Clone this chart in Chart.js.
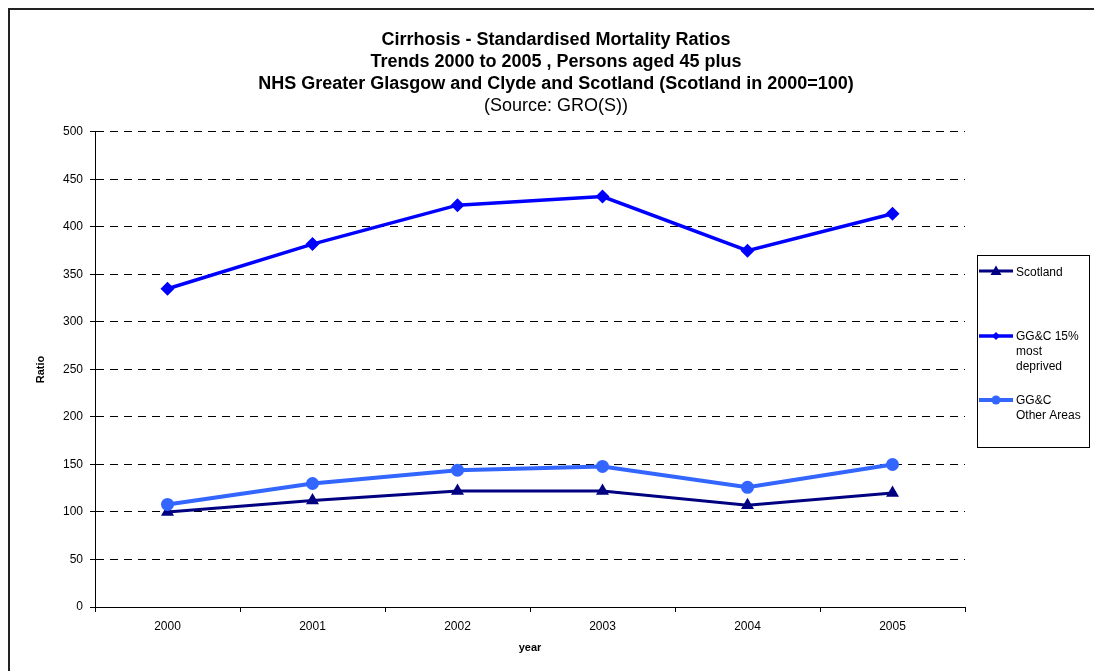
<!DOCTYPE html>
<html>
<head>
<meta charset="utf-8">
<script src="https://cdn.jsdelivr.net/npm/chart.js@4"></script>
<style>
html,body{margin:0;padding:0;background:#fff;}
#wrap{width:1094px;height:671px;position:relative;}
</style>
</head>
<body>
<div id="wrap"><canvas id="c" width="1094" height="671"></canvas></div>
<script>
const years = ['2000','2001','2002','2003','2004','2005'];
const scotland = [100, 112, 122, 122, 107, 120];
const deprived = [335, 382, 423, 432, 375, 414];
const otherAreas = [108, 130, 144, 148, 126, 150];
const yTicks = [0,50,100,150,200,250,300,350,400,450,500];
const seriesNames = ['Scotland', ['GG&C 15%','most','deprived'], ['GG&C','Other Areas']];
const FONT = "'Liberation Sans', Arial, sans-serif";

const frame = {
  id:'frame',
  beforeDraw(chart){
    const ctx = chart.ctx;
    ctx.save();
    ctx.fillStyle = '#fff';
    ctx.fillRect(0,0,chart.width,chart.height);
    ctx.fillStyle = '#222';
    ctx.fillRect(8,8,chart.width-8,2);
    ctx.fillRect(8,8,2,chart.height-8);
    ctx.restore();
  }
};

const customLegend = {
  id:'customLegend',
  afterDraw(chart){
    const ctx = chart.ctx;
    ctx.save();
    ctx.strokeStyle = '#000';
    ctx.lineWidth = 1;
    ctx.strokeRect(977.5,255.5,112,192);
    const entries = [
      {y:271, ty:273, ds:0, shape:'tri'},
      {y:336, ty:337, ds:1, shape:'dia'},
      {y:400, ty:401, ds:2, shape:'circ'}
    ];
    ctx.font = '12px ' + FONT;
    ctx.textBaseline = 'middle';
    ctx.textAlign = 'left';
    entries.forEach((e,i)=>{
      const ds = chart.data.datasets[e.ds];
      ctx.strokeStyle = ds.borderColor;
      ctx.fillStyle = ds.borderColor;
      ctx.lineWidth = ds.borderWidth;
      ctx.beginPath(); ctx.moveTo(979,e.y); ctx.lineTo(1013,e.y); ctx.stroke();
      const cx = 996, cy = e.y;
      ctx.beginPath();
      if (e.shape==='tri'){ ctx.moveTo(cx,cy-5.5); ctx.lineTo(cx+5.5,cy+4); ctx.lineTo(cx-5.5,cy+4); ctx.closePath(); }
      else if (e.shape==='dia'){ ctx.moveTo(cx,cy-4); ctx.lineTo(cx+4,cy); ctx.lineTo(cx,cy+4); ctx.lineTo(cx-4,cy); ctx.closePath(); }
      else { ctx.arc(cx,cy,4.5,0,Math.PI*2); }
      ctx.fill();
      ctx.fillStyle = '#000';
      const lines = [].concat(seriesNames[i]);
      lines.forEach((t,k)=>ctx.fillText(t,1016,e.ty + k*15));
    });
    ctx.restore();
  }
};

new Chart(document.getElementById('c'), {
  type:'line',
  data:{
    labels: years,
    datasets:[
      {label:'Scotland', data:scotland, borderColor:'#000080', backgroundColor:'#000080', borderWidth:3, pointStyle:'triangle', pointRadius:7.5, pointBorderWidth:0, pointBackgroundColor:'#000080', order:2, tension:0},
      {label:'GG&C 15% most deprived', data:deprived, borderColor:'#0000FF', backgroundColor:'#0000FF', borderWidth:3.5, pointStyle:'rectRot', pointRadius:7, pointBorderWidth:0, pointBackgroundColor:'#0000FF', order:1, tension:0},
      {label:'GG&C Other Areas', data:otherAreas, borderColor:'#3366FF', backgroundColor:'#3366FF', borderWidth:4, pointStyle:'circle', pointRadius:6.5, pointBorderWidth:0, pointBackgroundColor:'#3366FF', order:0, tension:0}
    ]
  },
  options:{
    responsive:false,
    animation:false,
    devicePixelRatio:1,
    layout:{padding:{top:0,right:0,bottom:0,left:18}},
    font:{family:FONT},
    plugins:{
      legend:{display:false},
      tooltip:{enabled:false},
      title:{display:true, text:['Cirrhosis - Standardised Mortality Ratios','Trends 2000 to 2005 , Persons aged 45 plus','NHS Greater Glasgow and Clyde and Scotland (Scotland in 2000=100)'], color:'#000', font:{family:FONT, size:18, weight:'bold', lineHeight:1.2222}, padding:{top:29,bottom:0}},
      subtitle:{display:true, text:'(Source: GRO(S))', color:'#000', font:{family:FONT, size:18, weight:'normal', lineHeight:1.2222}, padding:{top:0,bottom:15}}
    },
    scales:{
      x:{
        type:'category',
        offset:true,
        grid:{offset:true, drawOnChartArea:false, drawTicks:true, tickLength:5, color:'#000'},
        border:{display:true, color:'#000', width:1},
        ticks:{padding:7, color:'#000', font:{family:FONT, size:12}, maxRotation:0},
        title:{display:true, text:'year', color:'#000', font:{family:FONT, size:11, weight:'bold'}, padding:{top:0,bottom:16}},
        afterFit(s){ s.height = 64; }
      },
      y:{
        type:'linear',
        min:0, max:500,
        afterBuildTicks(s){ s.ticks = yTicks.map(v=>({value:v})); },
        grid:{color:'#000', lineWidth:1, drawTicks:true, tickLength:5, tickColor:'#000'},
        border:{display:true, color:'#000', width:1, dash:[8,6]},
        ticks:{padding:7, color:'#000', font:{family:FONT, size:12}},
        title:{display:true, text:'Ratio', color:'#000', font:{family:FONT, size:11, weight:'bold'}, padding:{top:16,bottom:0}},
        afterFit(s){ s.width = 77; }
      },
      yR:{
        type:'linear',
        position:'right',
        min:0, max:500,
        display:true,
        grid:{display:false},
        border:{display:false},
        ticks:{display:false},
        afterFit(s){ s.width = 129; }
      }
    }
  },
  plugins:[frame, customLegend]
});
</script>
</body>
</html>
